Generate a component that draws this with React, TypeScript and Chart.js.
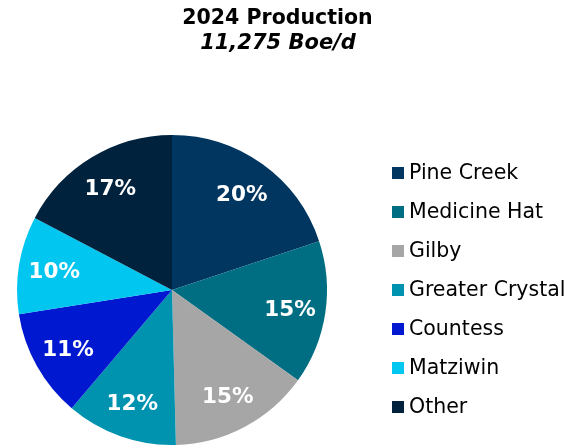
import React, { useEffect, useRef } from "react";
import { Chart, registerables } from "chart.js";

Chart.register(...registerables);

const TITLE = "2024 Production";
const SUBTITLE = "11,275 Boe/d";
const categories = ["Pine Creek", "Medicine Hat", "Gilby", "Greater Crystal", "Countess", "Matziwin", "Other"];
const shares = [19.9, 15.0, 14.7, 11.6, 11.3, 10.2, 17.3];
const colors = ["#003660", "#006E82", "#A6A6A6", "#0093B0", "#0018D0", "#00C6F0", "#00223C"];

const FONT = '"DejaVu Sans", Verdana, sans-serif';

const overlayPlugin = {
  id: "overlay",
  afterDraw(chart: any) {
    const ctx = chart.ctx as CanvasRenderingContext2D;
    ctx.save();
    // Titles
    ctx.fillStyle = "#000000";
    ctx.textAlign = "center";
    ctx.textBaseline = "middle";
    ctx.font = `bold 20.5px ${FONT}`;
    ctx.fillText(TITLE, 277.5, 19);
    ctx.font = `italic bold 21px ${FONT}`;
    ctx.fillText(SUBTITLE, 278, 43.5);

    // Slice labels
    const meta = chart.getDatasetMeta(0);
    ctx.fillStyle = "#FFFFFF";
    ctx.font = `bold 21.5px ${FONT}`;
    meta.data.forEach((arc: any, i: number) => {
      const { x, y, startAngle, endAngle, outerRadius } = arc.getProps(["x", "y", "startAngle", "endAngle", "outerRadius"], true);
      const mid = (startAngle + endAngle) / 2;
      const r = outerRadius * 0.77;
      const v = Math.round(chart.data.datasets[0].data[i]);
      ctx.fillText(`${v}%`, x + Math.cos(mid) * r, y + Math.sin(mid) * r + 2);
    });

    // Legend
    ctx.textAlign = "left";
    ctx.font = `20.5px ${FONT}`;
    chart.data.labels.forEach((label: string, i: number) => {
      const cy = 173 + 39 * i;
      ctx.fillStyle = chart.data.datasets[0].backgroundColor[i];
      ctx.fillRect(392, cy - 6, 12, 12);
      ctx.fillStyle = "#000000";
      ctx.fillText(label, 409, cy + 1);
    });
    ctx.restore();
  },
};

export default function App() {
  const ref = useRef<HTMLCanvasElement | null>(null);
  useEffect(() => {
    if (!ref.current) return;
    const chart = new Chart(ref.current, {
      type: "pie",
      data: {
        labels: categories,
        datasets: [
          {
            data: shares,
            backgroundColor: colors,
            borderWidth: 0,
          },
        ],
      },
      options: {
        responsive: false,
        animation: false,
        layout: { padding: { left: 17, right: 251, top: 135, bottom: 0 } },
        plugins: {
          legend: { display: false },
          title: { display: false },
          tooltip: { enabled: false },
        },
      },
      plugins: [overlayPlugin],
    });
    return () => chart.destroy();
  }, []);
  return (
    <div style={{ position: "absolute", left: 0, top: 0, width: 578, height: 445, background: "#fff" }}>
      <canvas ref={ref} width={578} height={445} />
    </div>
  );
}
